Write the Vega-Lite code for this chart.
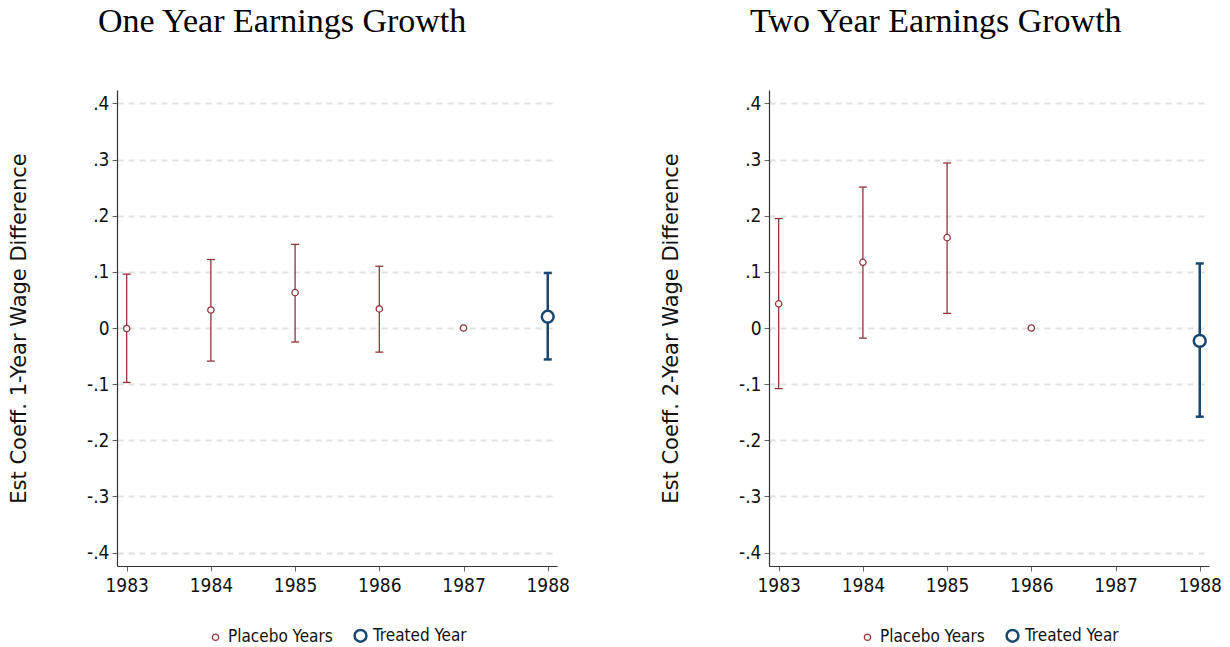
{
  "$schema": "https://vega.github.io/schema/vega-lite/v6.json",
  "padding": {"left": 8, "top": 5, "right": 5, "bottom": 0},
  "background": "white",
  "data": {"values": [
    {"panel": "one", "year": 1983, "b": -0.001, "lo": -0.097, "hi": 0.096, "type": "Placebo Years"},
    {"panel": "one", "year": 1984, "b": 0.032, "lo": -0.059, "hi": 0.122, "type": "Placebo Years"},
    {"panel": "one", "year": 1985, "b": 0.063, "lo": -0.025, "hi": 0.149, "type": "Placebo Years"},
    {"panel": "one", "year": 1986, "b": 0.034, "lo": -0.043, "hi": 0.110, "type": "Placebo Years"},
    {"panel": "one", "year": 1987, "b": 0.0, "lo": null, "hi": null, "type": "Placebo Years"},
    {"panel": "one", "year": 1988, "b": 0.020, "lo": -0.056, "hi": 0.098, "type": "Treated Year"},
    {"panel": "two", "year": 1983, "b": 0.043, "lo": -0.108, "hi": 0.195, "type": "Placebo Years"},
    {"panel": "two", "year": 1984, "b": 0.117, "lo": -0.018, "hi": 0.251, "type": "Placebo Years"},
    {"panel": "two", "year": 1985, "b": 0.161, "lo": 0.026, "hi": 0.294, "type": "Placebo Years"},
    {"panel": "two", "year": 1986, "b": 0.0, "lo": null, "hi": null, "type": "Placebo Years"},
    {"panel": "two", "year": 1988, "b": -0.023, "lo": -0.158, "hi": 0.115, "type": "Treated Year"}
  ]},
  "hconcat": [
    {
      "width": 440,
      "height": 476,
      "title": {"text": "One Year Earnings Growth", "anchor": "start", "frame": "group", "dx": -19, "offset": 24, "baseline": "alphabetic"},
      "transform": [{"filter": "datum.panel == 'one'"}],
      "encoding": {
        "x": {"field": "year", "type": "quantitative", "scale": {"domain": [1982.885, 1988.11], "nice": false, "zero": false},
          "axis": {"values": [1983, 1984, 1985, 1986, 1987, 1988], "format": "d", "title": null, "grid": false}},
        "color": {"field": "type", "type": "ordinal", "scale": {"domain": ["Placebo Years", "Treated Year"], "range": ["#90353b", "#1a476f"]},
          "legend": {"title": null, "orient": "bottom", "direction": "horizontal", "symbolType": "circle", "symbolFillColor": "white"}},
        "strokeWidth": {"field": "type", "type": "ordinal", "scale": {"domain": ["Placebo Years", "Treated Year"], "range": [1.3, 2.5]},
          "legend": {"title": null, "orient": "bottom", "direction": "horizontal", "symbolType": "circle", "symbolFillColor": "white"}}
      },
      "layer": [
        {"mark": {"type": "rule", "color": "#333333", "strokeWidth": 1.6}, "encoding": {"y": {"datum": 0, "type": "quantitative"}, "color": {"value": "#333333"}, "strokeWidth": {"value": 1.6}}},
        {"transform": [{"filter": "datum.lo != null"}],
          "mark": {"type": "rule"},
          "encoding": {
            "y": {"field": "lo", "type": "quantitative", "scale": {"domain": [-0.424, 0.424], "nice": false},
              "axis": {"values": [-0.4, -0.3, -0.2, -0.1, 0, 0.1, 0.2, 0.3, 0.4], "labelExpr": "datum.value == 0 ? '0' : (datum.value < 0 ? '-.' : '.') + format(abs(datum.value) * 10, '.0f')", "title": "Est Coeff. 1-Year Wage Difference"}},
            "y2": {"field": "hi"}
          }},
        {"transform": [{"filter": "datum.lo != null"}, {"fold": ["lo", "hi"], "as": ["end", "v"]}],
          "mark": {"type": "rule", "xOffset": -4, "x2Offset": 4},
          "encoding": {"x2": {"field": "year"}, "y": {"field": "v", "type": "quantitative"}}},
        {"mark": {"type": "point", "shape": "circle", "filled": false, "fill": "white", "fillOpacity": 1, "opacity": 1},
          "encoding": {
            "y": {"field": "b", "type": "quantitative"},
            "size": {"field": "type", "type": "ordinal", "scale": {"domain": ["Placebo Years", "Treated Year"], "range": [40, 140]}, "legend": {"title": null, "orient": "bottom", "direction": "horizontal", "symbolType": "circle", "symbolFillColor": "white"}}
          }}
      ]
    },
    {
      "width": 440,
      "height": 476,
      "title": {"text": "Two Year Earnings Growth", "anchor": "start", "frame": "group", "dx": -19, "offset": 24, "baseline": "alphabetic"},
      "transform": [{"filter": "datum.panel == 'two'"}],
      "encoding": {
        "x": {"field": "year", "type": "quantitative", "scale": {"domain": [1982.885, 1988.11], "nice": false, "zero": false},
          "axis": {"values": [1983, 1984, 1985, 1986, 1987, 1988], "format": "d", "title": null, "grid": false}},
        "color": {"field": "type", "type": "ordinal", "scale": {"domain": ["Placebo Years", "Treated Year"], "range": ["#90353b", "#1a476f"]},
          "legend": {"title": null, "orient": "bottom", "direction": "horizontal", "symbolType": "circle", "symbolFillColor": "white"}},
        "strokeWidth": {"field": "type", "type": "ordinal", "scale": {"domain": ["Placebo Years", "Treated Year"], "range": [1.3, 2.5]},
          "legend": {"title": null, "orient": "bottom", "direction": "horizontal", "symbolType": "circle", "symbolFillColor": "white"}}
      },
      "layer": [
        {"mark": {"type": "rule", "color": "#333333", "strokeWidth": 1.6}, "encoding": {"y": {"datum": 0, "type": "quantitative"}, "color": {"value": "#333333"}, "strokeWidth": {"value": 1.6}}},
        {"transform": [{"filter": "datum.lo != null"}],
          "mark": {"type": "rule"},
          "encoding": {
            "y": {"field": "lo", "type": "quantitative", "scale": {"domain": [-0.424, 0.424], "nice": false},
              "axis": {"values": [-0.4, -0.3, -0.2, -0.1, 0, 0.1, 0.2, 0.3, 0.4], "labelExpr": "datum.value == 0 ? '0' : (datum.value < 0 ? '-.' : '.') + format(abs(datum.value) * 10, '.0f')", "title": "Est Coeff. 2-Year Wage Difference"}},
            "y2": {"field": "hi"}
          }},
        {"transform": [{"filter": "datum.lo != null"}, {"fold": ["lo", "hi"], "as": ["end", "v"]}],
          "mark": {"type": "rule", "xOffset": -4, "x2Offset": 4},
          "encoding": {"x2": {"field": "year"}, "y": {"field": "v", "type": "quantitative"}}},
        {"mark": {"type": "point", "shape": "circle", "filled": false, "fill": "white", "fillOpacity": 1, "opacity": 1},
          "encoding": {
            "y": {"field": "b", "type": "quantitative"},
            "size": {"field": "type", "type": "ordinal", "scale": {"domain": ["Placebo Years", "Treated Year"], "range": [40, 140]}, "legend": {"title": null, "orient": "bottom", "direction": "horizontal", "symbolType": "circle", "symbolFillColor": "white"}}
          }}
      ]
    }
  ],
  "spacing": 90,
  "resolve": {"scale": {"color": "independent", "size": "independent", "strokeWidth": "independent"}, "legend": {"color": "independent", "size": "independent", "strokeWidth": "independent"}},
  "config": {
    "view": {"stroke": null},
    "title": {"font": "Liberation Serif", "fontSize": 34, "fontWeight": "normal", "color": "#000000"},
    "axis": {
      "labelFont": "DejaVu Sans Condensed, sans-serif",
      "labelFontSize": 19,
      "labelColor": "#111111",
      "titleFont": "DejaVu Sans",
      "titleFontSize": 21,
      "titleFontWeight": "normal",
      "titleColor": "#111111",
      "domainColor": "#333333",
      "domainWidth": 1.2,
      "tickColor": "#666666",
      "tickSize": 5,
      "labelPadding": 4
    },
    "axisY": {"grid": true, "gridColor": "#e0e0e0", "gridDash": [6, 5], "gridWidth": 1.8, "titlePadding": 57, "labelPadding": 3},
    "axisX": {"labelPadding": 5},
    "legend": {
      "labelFont": "DejaVu Sans Condensed, sans-serif",
      "labelFontSize": 17,
      "labelColor": "#111111",
      "offset": 32,
      "columnPadding": 16,
      "layout": {"bottom": {"anchor": "middle"}}
    }
  }
}
